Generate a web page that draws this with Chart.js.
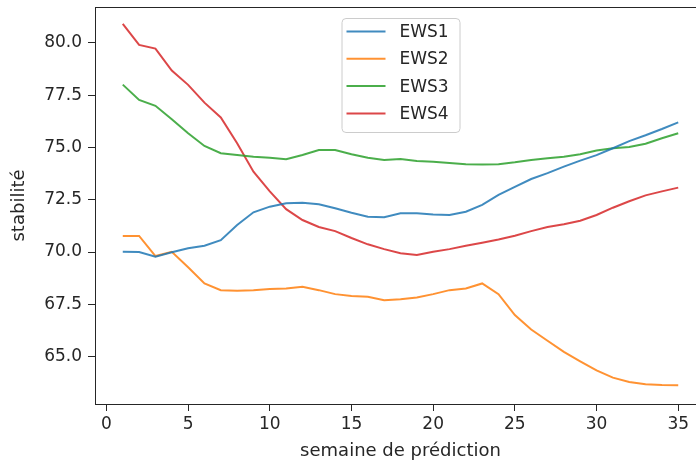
<!DOCTYPE html>
<html>
<head>
<meta charset="utf-8">
<script src="https://cdn.jsdelivr.net/npm/chart.js@4.4.1/dist/chart.umd.min.js"></script>
<style>
  html, body { margin: 0; padding: 0; background: #fff; overflow: hidden; }
  #wrap { width: 710px; height: 462px; }
</style>
</head>
<body>
<div id="wrap"><canvas id="chart" width="710" height="462"></canvas></div>
<script>
// weeks of prediction
const weeks = [1, 2, 3, 4, 5, 6, 7, 8, 9, 10, 11, 12, 13, 14, 15, 16, 17, 18,
  19, 20, 21, 22, 23, 24, 25, 26, 27, 28, 29, 30, 31, 32, 33, 34, 35];

const ews1 = [70.01, 70.0, 69.78, 69.99, 70.18, 70.3, 70.57, 71.29, 71.9, 72.17,
  72.33, 72.36, 72.28, 72.09, 71.88, 71.69, 71.66, 71.85, 71.85, 71.8,
  71.77, 71.93, 72.25, 72.73, 73.12, 73.49, 73.77, 74.08, 74.37, 74.63,
  74.96, 75.3, 75.58, 75.88, 76.2];
const ews2 = [70.77, 70.77, 69.81, 70.01, 69.27, 68.5, 68.18, 68.15, 68.18, 68.23,
  68.26, 68.34, 68.18, 67.99, 67.9, 67.86, 67.7, 67.75, 67.83, 67.99,
  68.18, 68.26, 68.5, 67.99, 66.99, 66.3, 65.76, 65.23, 64.78, 64.35,
  64.0, 63.79, 63.68, 63.65, 63.64];
const ews3 = [78.0, 77.27, 76.99, 76.35, 75.68, 75.07, 74.72, 74.64, 74.56, 74.51,
  74.44, 74.64, 74.88, 74.88, 74.67, 74.51, 74.4, 74.45, 74.35, 74.31,
  74.25, 74.2, 74.18, 74.2, 74.29, 74.4, 74.48, 74.56, 74.67, 74.85,
  74.96, 75.02, 75.18, 75.44, 75.68];
const ews4 = [80.9, 79.9, 79.72, 78.67, 77.99, 77.14, 76.43, 75.2, 73.84, 72.9,
  72.05, 71.53, 71.2, 71.0, 70.67, 70.37, 70.14, 69.94, 69.86, 70.01,
  70.14, 70.3, 70.45, 70.6, 70.78, 71.0, 71.2, 71.33, 71.5, 71.77,
  72.12, 72.43, 72.71, 72.9, 73.08];

const seriesNames = ["EWS1", "EWS2", "EWS3", "EWS4"];
const seriesValues = [ews1, ews2, ews3, ews4];
const seriesColors = [
  "rgba(31, 119, 180, 0.85)",
  "rgba(255, 127, 14, 0.85)",
  "rgba(44, 160, 44, 0.85)",
  "rgba(214, 39, 40, 0.85)",
];

const xTicks = [0, 5, 10, 15, 20, 25, 30, 35];
const yTicks = [65.0, 67.5, 70.0, 72.5, 75.0, 77.5, 80.0];

const ink = "#262626";
const tickFont = { family: "DejaVu Sans", size: 17 };
const titleFont = { family: "DejaVu Sans", size: 18 };

// frame on all four sides, like matplotlib spines
const framePlugin = {
  id: "frame",
  afterDraw(chart) {
    const { ctx, chartArea: a } = chart;
    ctx.save();
    ctx.strokeStyle = ink;
    ctx.lineWidth = 1;
    ctx.strokeRect(Math.round(a.left) + 0.5, Math.round(a.top) + 0.5,
      Math.round(a.right - a.left), Math.round(a.bottom - a.top));
    ctx.restore();
  },
};

// legend drawn inside the plot, upper center
const insideLegend = {
  id: "insideLegend",
  afterDraw(chart) {
    const { ctx, chartArea: a } = chart;
    const w = 118, h = 114, rowH = 27.3;
    const x = (a.left + a.right) / 2 - w / 2;
    const y = a.top + 11;
    ctx.save();
    ctx.beginPath();
    ctx.roundRect(x + 0.5, y + 0.5, w, h, 4);
    ctx.fillStyle = "rgba(255,255,255,0.8)";
    ctx.fill();
    ctx.strokeStyle = "#cccccc";
    ctx.lineWidth = 1;
    ctx.stroke();
    ctx.font = "17px 'DejaVu Sans'";
    ctx.textBaseline = "middle";
    chart.data.datasets.forEach((ds, i) => {
      const ry = y + 13.5 + rowH * i;
      ctx.strokeStyle = ds.borderColor;
      ctx.lineWidth = 2;
      ctx.beginPath();
      ctx.moveTo(x + 5, ry);
      ctx.lineTo(x + 44, ry);
      ctx.stroke();
      ctx.fillStyle = ink;
      ctx.fillText(ds.label, x + 58, ry + 1);
    });
    ctx.restore();
  },
};

new Chart(document.getElementById("chart"), {
  type: "line",
  data: {
    datasets: seriesNames.map((name, i) => ({
      label: name,
      data: weeks.map((w, j) => ({ x: w, y: seriesValues[i][j] })),
      borderColor: seriesColors[i],
      backgroundColor: seriesColors[i],
      borderWidth: 2,
      pointRadius: 0,
      tension: 0,
      fill: false,
    })),
  },
  options: {
    responsive: false,
    animation: false,
    layout: { padding: { top: 7, right: 4, left: 0, bottom: 0 } },
    plugins: {
      legend: { display: false },
      tooltip: { enabled: false },
    },
    scales: {
      x: {
        type: "linear",
        min: -0.7,
        max: 36.7,
        afterBuildTicks: (scale) => {
          scale.ticks = xTicks.map((v) => ({ value: v }));
        },
        afterFit: (scale) => {
          scale.height = 58;
          scale.paddingLeft = 0;
          scale.paddingRight = 0;
        },
        grid: { drawOnChartArea: false, tickLength: 7, color: ink },
        border: { display: true, color: ink },
        ticks: { font: tickFont, color: ink, padding: 3, maxRotation: 0,
          callback: (v) => String(v) },
        title: { display: true, text: "semaine de prédiction", font: titleFont,
          color: ink, padding: { top: 0, bottom: 0 } },
      },
      y: {
        min: 62.74,
        max: 81.71,
        afterBuildTicks: (scale) => {
          scale.ticks = yTicks.map((v) => ({ value: v }));
        },
        afterFit: (scale) => {
          scale.width = 95;
          scale.paddingTop = 0;
          scale.paddingBottom = 0;
        },
        grid: { drawOnChartArea: false, tickLength: 7, color: ink },
        border: { display: true, color: ink },
        ticks: { font: tickFont, color: ink, padding: 6,
          callback: (v) => Number(v).toFixed(1) },
        title: { display: true, text: "stabilité", font: titleFont,
          color: ink, padding: { top: 9, bottom: 0 } },
      },
    },
  },
  plugins: [framePlugin, insideLegend],
});
</script>
</body>
</html>
